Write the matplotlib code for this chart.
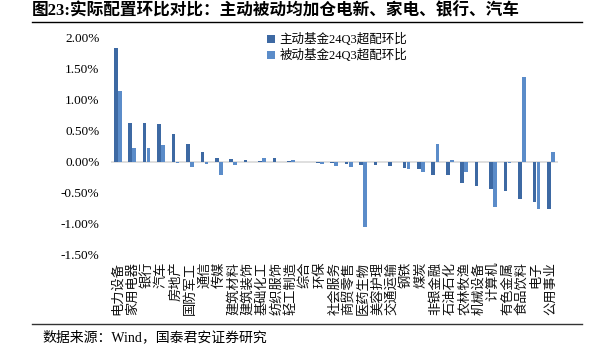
import matplotlib
matplotlib.use("Agg")
import matplotlib.pyplot as plt
from matplotlib.ticker import FuncFormatter
from matplotlib.lines import Line2D
import numpy as np

categories = ["电力设备", "家用电器", "银行", "汽车", "房地产", "国防军工", "通信", "传媒",
              "建筑材料", "建筑装饰", "基础化工", "纺织服饰", "轻工制造", "综合", "环保",
              "社会服务", "商贸零售", "医药生物", "美容护理", "交通运输", "钢铁", "煤炭",
              "非银金融", "石油石化", "农林牧渔", "机械设备", "计算机", "有色金属",
              "食品饮料", "电子", "公用事业"]
active = [1.82, 0.62, 0.62, 0.60, 0.44, 0.28, 0.15, 0.06, 0.04, 0.03, 0.01, 0.05, 0.01,
          0.00, -0.02, -0.02, -0.04, -0.05, -0.05, -0.08, -0.10, -0.12, -0.21, -0.22,
          -0.34, -0.40, -0.45, -0.48, -0.60, -0.65, -0.77]
passive = [1.13, 0.21, 0.22, 0.27, -0.03, -0.09, -0.04, -0.22, -0.05, 0.00, 0.05, 0.00,
           0.02, 0.00, -0.04, -0.07, -0.09, -1.05, 0.00, 0.00, -0.12, -0.17, 0.29, 0.03,
           -0.17, -0.01, -0.74, -0.03, 1.36, -0.76, 0.15]
series_names = ["主动基金24Q3超配环比", "被动基金24Q3超配环比"]

c_active = "#3D69A3"
c_passive = "#5B8CC9"
fam = ["Liberation Serif", "Noto Sans CJK SC", "DejaVu Sans"]
plt.rcParams['font.family'] = fam

fig = plt.figure(figsize=(5.94, 3.53), dpi=100)
ax = fig.add_axes([110.5/594, 1-254.7/353, (558-110.5)/594, (254.7-37.3)/353])

x = np.arange(len(categories))
w = 0.25
ax.bar(x - 0.14, active, width=w, color=c_active, label=series_names[0], zorder=3)
ax.bar(x + 0.14, passive, width=w, color=c_passive, label=series_names[1], zorder=3)
ax.axhline(0, color="#D9D9D9", lw=1.2, zorder=2)

ax.set_xlim(-0.5, len(categories) - 0.5)
ax.set_ylim(-1.5, 2.0)
ax.set_yticks(np.arange(-1.5, 2.01, 0.5))
ax.yaxis.set_major_formatter(FuncFormatter(lambda v, p: f"{v:.2f}%"))
ax.tick_params(axis='y', length=0, pad=8, labelsize=9.5)
ax.set_xticks([])
for s in ax.spines.values():
    s.set_visible(False)

for i, c in enumerate(categories):
    ax.text(i, -1.5 - 7/62, c, rotation=90, ha='center', va='top', fontsize=9.5,
            family=["Noto Sans CJK SC"], color="#111111")

ax.legend(loc='upper left', bbox_to_anchor=(262/594, 1-28/353), bbox_transform=fig.transFigure,
          frameon=False, fontsize=9, handlelength=0.6, handleheight=0.6,
          handletextpad=0.4, labelspacing=0.25, borderaxespad=0)

fig.text(32/594, 1-11/353, "图23:实际配置环比对比：主动被动均加仓电新、家电、银行、汽车",
         fontsize=12, fontweight='bold', ha='left', va='center')
fig.add_artist(Line2D([32/594, 582/594], [1-21.5/353, 1-21.5/353], color='black', lw=1,
                      transform=fig.transFigure))
fig.add_artist(Line2D([32/594, 582/594], [1-324/353, 1-324/353], color='#333333', lw=1,
                      transform=fig.transFigure))
fig.text(42/594, 1-337/353, "数据来源：Wind，国泰君安证券研究", fontsize=10, ha='left', va='center')

fig.savefig("out.png", dpi=100)
